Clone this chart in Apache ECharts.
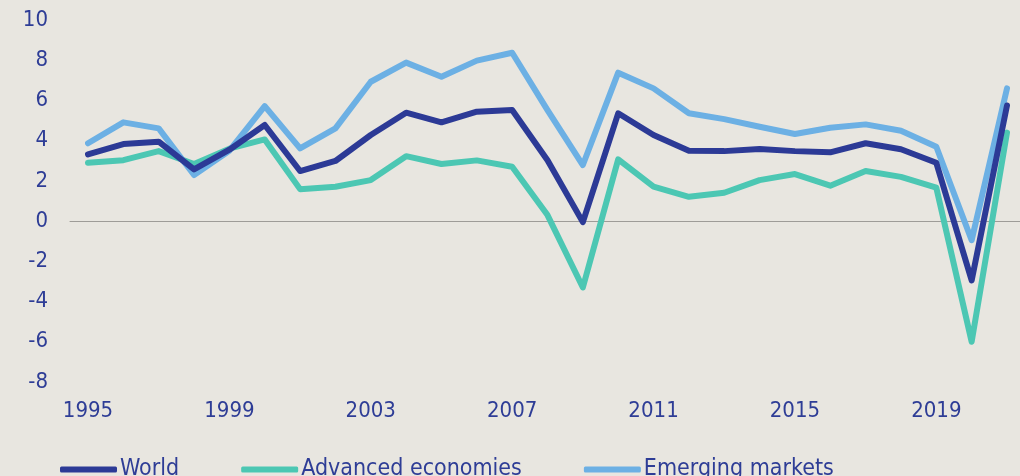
<!DOCTYPE html>
<html><head><meta charset="utf-8">
<script src="https://cdn.jsdelivr.net/npm/echarts@6/dist/echarts.min.js"></script>
<style>html,body{margin:0;padding:0;background:#e8e6e0;}#c{width:1020px;height:476px;}</style>
</head><body><div id="c"></div>
<script>
const years = ['1995','1996','1997','1998','1999','2000','2001','2002','2003','2004','2005','2006','2007','2008','2009','2010','2011','2012','2013','2014','2015','2016','2017','2018','2019','2020','2021'];
const world    = [3.32,3.83,3.95,2.57,3.55,4.78,2.49,2.99,4.28,5.39,4.91,5.44,5.52,3.03,-0.05,5.36,4.28,3.50,3.48,3.58,3.48,3.42,3.87,3.57,2.90,-2.95,5.75];
const advanced = [2.90,3.03,3.48,2.84,3.60,4.06,1.59,1.71,2.04,3.23,2.84,3.02,2.70,0.30,-3.30,3.07,1.71,1.21,1.41,2.04,2.34,1.76,2.49,2.20,1.66,-6.00,4.40];
const emerging = [3.87,4.91,4.61,2.29,3.50,5.72,3.62,4.61,6.93,7.88,7.18,7.98,8.37,5.52,2.79,7.38,6.60,5.36,5.07,4.69,4.33,4.64,4.81,4.49,3.70,-0.95,6.60];
const seriesNames = ['World','Advanced economies','Emerging markets'];
const colors = ['#2c3a96','#4cc7b3','#6cb0e4'];
const txt = '#2e3d96';
const font = 'DejaVu Sans Condensed';
const chart = echarts.init(document.getElementById('c'));
const mk = (name, data, color, z) => ({
  name, type:'line', data, xAxisIndex:1, yAxisIndex:1, symbol:'none', color, z,
  lineStyle:{width:6, color, cap:'round', join:'round'}
});
chart.setOption({
  backgroundColor:'#e8e6e0',
  animation:false,
  textStyle:{fontFamily:font},
  grid:[
    {left:70, right:0, top:20, bottom:94},
    {left:88, right:13, top:20, bottom:94}
  ],
  xAxis:[
    {gridIndex:0, type:'category', data:years, boundaryGap:false,
     axisLine:{onZero:true, lineStyle:{color:'#9e9c98', width:1}}, axisTick:{show:false}, axisLabel:{show:false}, splitLine:{show:false}},
    {gridIndex:1, type:'category', data:years, boundaryGap:false,
     axisLine:{show:false}, axisTick:{show:false}, splitLine:{show:false},
     axisLabel:{interval:3, color:txt, fontSize:22, fontFamily:font, margin:18}}
  ],
  yAxis:[
    {gridIndex:0, type:'value', min:-8, max:10, interval:2,
     axisLine:{show:false}, axisTick:{show:false}, splitLine:{show:false},
     axisLabel:{color:txt, fontSize:22, fontFamily:font, margin:22}},
    {gridIndex:1, type:'value', min:-8, max:10, interval:2, show:false}
  ],
  legend:{
    left:55, top:453, itemGap:62, itemWidth:57, itemHeight:6, icon:'roundRect',
    textStyle:{color:txt, fontSize:23, fontFamily:font, padding:[0,0,0,-2]},
    data:seriesNames
  },
  series:[
    mk(seriesNames[0], world, colors[0], 5),
    mk(seriesNames[1], advanced, colors[1], 3),
    mk(seriesNames[2], emerging, colors[2], 4)
  ]
});
</script></body></html>
